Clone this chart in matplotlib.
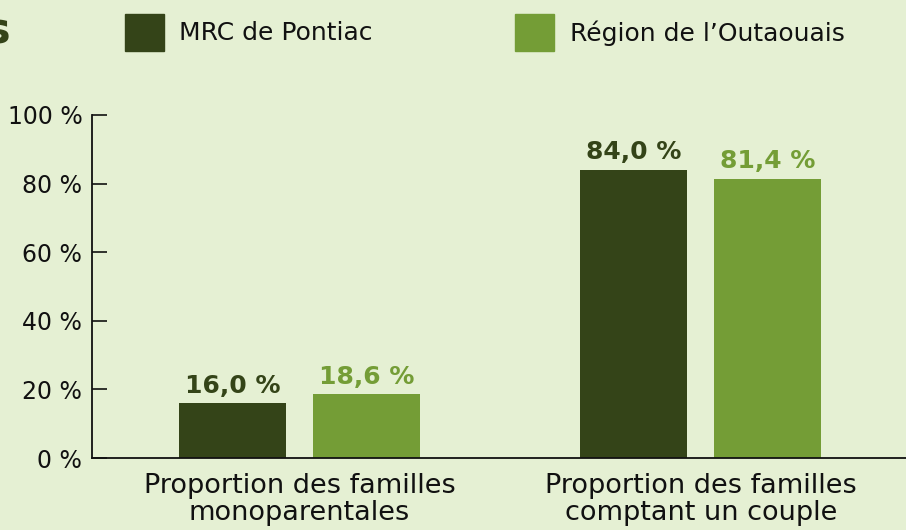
import matplotlib
matplotlib.use("Agg")
import matplotlib.pyplot as plt
import numpy as np
from matplotlib.patches import Rectangle

categories = ["Proportion des familles\nmonoparentales", "Proportion des familles\ncomptant un couple"]
series_names = ["MRC de Pontiac", "Région de l’Outaouais"]
pontiac = [16.0, 84.0]
outaouais = [18.6, 81.4]
yticks = [0, 20, 40, 60, 80, 100]
ytick_labels = ["0 %", "20 %", "40 %", "60 %", "80 %", "100 %"]

bg = "#E5F0D3"
dark = "#344418"
green = "#749D36"

plt.rcParams['font.family'] = ['DejaVu Sans']

W, H = 906, 530
fig = plt.figure(figsize=(W/100, H/100), dpi=100, facecolor=bg)
ax = fig.add_axes([92/W, 1-458/H, (906-92)/W, (458-115)/H], facecolor=bg)

x = np.arange(len(categories))
bw = 107/401.5
off = 67/401.5
b1 = ax.bar(x - off, pontiac, bw, color=dark)
b2 = ax.bar(x + off, outaouais, bw, color=green)

def fmt(v):
    return f"{v:.1f}".replace(".", ",") + " %"

for bars, vals, c in ((b1, pontiac, dark), (b2, outaouais, green)):
    for r, v in zip(bars, vals):
        ax.annotate(fmt(v), (r.get_x() + r.get_width()/2, v), xytext=(0, 4),
                    textcoords="offset points", ha="center", va="bottom",
                    fontsize=18, fontweight="bold", color=c)

ax.set_xlim(-0.5168, 1.5106)
ax.set_ylim(0, 100)
ax.set_yticks(yticks)
ax.set_yticklabels(ytick_labels)
ax.set_xticks(x)
ax.set_xticklabels(categories, linespacing=1.05)
ax.tick_params(axis="y", direction="in", length=11, width=1.2, pad=7, labelsize=17, colors="#111111")
ax.tick_params(axis="x", length=0, pad=11, labelsize=19.5, colors="#111111")
for s in ("top", "right"):
    ax.spines[s].set_visible(False)
for s in ("left", "bottom"):
    ax.spines[s].set_linewidth(1.3)
    ax.spines[s].set_color("#111111")

# legend
fig.patches.append(Rectangle((125/W, 1-51/H), 39/W, 37/H, transform=fig.transFigure, color=dark))
fig.text(179/W, 1-33/H, series_names[0], fontsize=18, va="center", ha="left", color="#111111")
fig.patches.append(Rectangle((515/W, 1-51/H), 39/W, 37/H, transform=fig.transFigure, color=green))
fig.text(570/W, 1-33/H, series_names[1], fontsize=18, va="center", ha="left", color="#111111")

# cut-off title remnant (the reference shows only the tail of a clipped title)
fig.text(10/W, 1-31/H, "s", fontsize=31, fontweight="bold", va="center", ha="right", color=dark)

fig.savefig("out.png", dpi=100, facecolor=bg)
